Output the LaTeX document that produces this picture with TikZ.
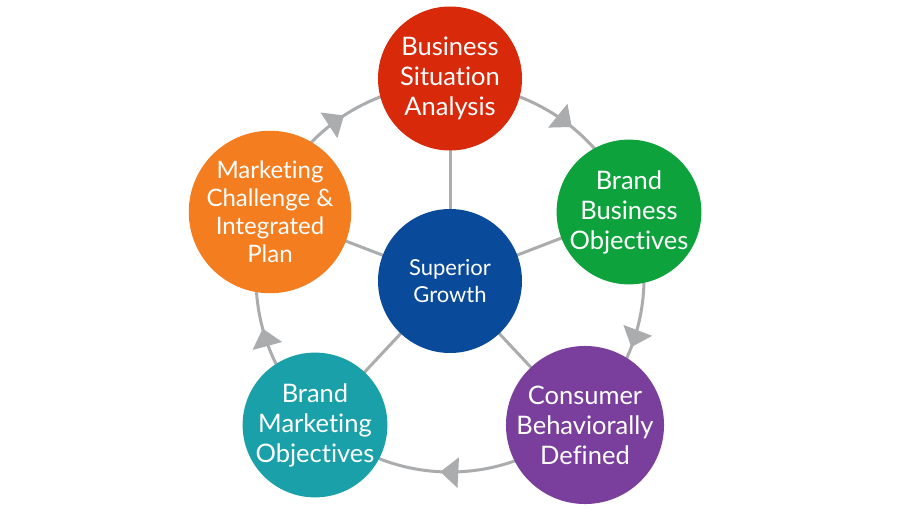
\documentclass[tikz,border=0pt]{standalone}
\usepackage{fontspec}
\setmainfont{Lato}[Ligatures=NoCommon]
\usetikzlibrary{arrows.meta,decorations.markings}
\definecolor{cred}{RGB}{216,41,10}
\definecolor{cgreen}{RGB}{13,162,59}
\definecolor{corange}{RGB}{244,125,32}
\definecolor{cblue}{RGB}{9,74,155}
\definecolor{cteal}{RGB}{26,160,168}
\definecolor{cpurple}{RGB}{122,62,157}
\definecolor{cgray}{RGB}{170,172,174}
\tikzset{
  bubble/.style={circle, minimum size=144pt, inner sep=0pt, text=white, align=center,
    font=\fontsize{25.5}{30}\selectfont},
  spoke/.style={draw=cgray, line width=3pt},
  ring/.style={draw=cgray, line width=3pt, postaction={decorate},
    decoration={markings,
      mark=at position 0.108 with {\arrow{Triangle[width=30pt,length=18pt]}},
      mark=at position 0.308 with {\arrow{Triangle[width=30pt,length=18pt]}},
      mark=at position 0.508 with {\arrow{Triangle[width=30pt,length=18pt]}},
      mark=at position 0.708 with {\arrow{Triangle[width=30pt,length=18pt]}},
      mark=at position 0.908 with {\arrow{Triangle[width=30pt,length=18pt]}}}}
}
\begin{document}
\begin{tikzpicture}[x=1pt,y=1pt]
\fill[white] (0,0) rectangle (900,520);
\useasboundingbox (0,0) rectangle (900,520);
\coordinate (rc) at (450,242);
\path[ring, color=cgray] (rc) ++(90:194) arc[start angle=90, end angle=-270, radius=194];
\coordinate (pb) at (450,239);
\coordinate (pr) at (450,441.5);
\coordinate (pg) at (629,308);
\coordinate (pp) at (585,95);
\coordinate (pt) at (315,95);
\coordinate (po) at (270,308);
\draw[spoke] (pb) -- (pr);
\draw[spoke] (pb) -- (pg);
\draw[spoke] (pb) -- (pp);
\draw[spoke] (pb) -- (pt);
\draw[spoke] (pb) -- (po);
\node[bubble, fill=cblue, font=\fontsize{22}{27}\selectfont] (center) at (pb) {Superior\\Growth};
\node[bubble, fill=cred] (red) at (pr) {Business\\Situation\\Analysis};
\node[bubble, fill=cgreen] (green) at (pg) {Brand\\Business\\Objectives};
\node[bubble, fill=cpurple] (purple) at (pp) {Consumer\\Behaviorally\\Defined};
\node[bubble, fill=cteal] (teal) at (pt) {Brand\\Marketing\\Objectives};
\node[bubble, fill=corange, font=\fontsize{24}{28}\selectfont] (orange) at (po) {Marketing\\Challenge \&\\Integrated\\Plan};
\end{tikzpicture}
\end{document}
